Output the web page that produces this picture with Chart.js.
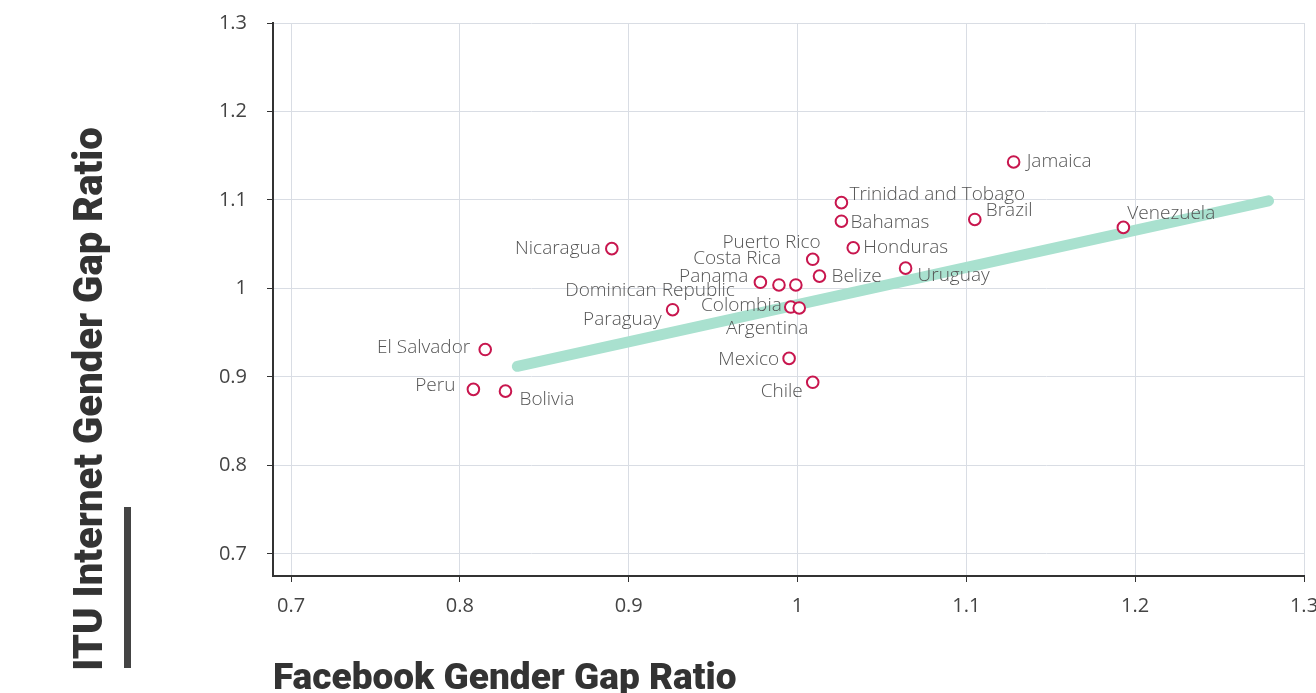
<!DOCTYPE html>
<html>
<head>
<meta charset="utf-8">
<script src="https://cdn.jsdelivr.net/npm/chart.js@4.4.1/dist/chart.umd.min.js"></script>
<style>
  body { margin: 0; background: #fff; }
  #wrap { position: relative; width: 1316px; height: 693px; }
</style>
</head>
<body>
<div id="wrap"><canvas id="grafico"></canvas></div>
<script>
// pays et ratios
const paises = ["Jamaica", "Trinidad and Tobago", "Bahamas", "Brazil", "Venezuela", "Nicaragua",
  "Puerto Rico", "Honduras", "Costa Rica", "Panama", "Belize", "Uruguay", "Dominican Republic",
  "Colombia", "Argentina", "Paraguay", "Mexico", "Chile", "El Salvador", "Peru", "Bolivia"];
const facebookRatio = [1.128, 1.026, 1.026, 1.105, 1.193, 0.890,
  1.009, 1.033, 0.989, 0.978, 1.013, 1.064, 0.999,
  0.996, 1.001, 0.926, 0.995, 1.009, 0.815, 0.808, 0.827];
const ituRatio = [1.143, 1.097, 1.076, 1.078, 1.069, 1.045,
  1.033, 1.046, 1.004, 1.007, 1.014, 1.023, 1.004,
  0.979, 0.978, 0.976, 0.921, 0.894, 0.931, 0.886, 0.884];

// droite de tendance
const tendenciaX = [0.834, 1.279];
const tendenciaY = [0.912, 1.099];

const ticksX = [0.7, 0.8, 0.9, 1, 1.1, 1.2, 1.3];
const ticksY = [0.7, 0.8, 0.9, 1, 1.1, 1.2, 1.3];

// position des étiquettes par rapport au point [dx, dy, alignement]
const posEtiquetas = {
  "Jamaica": [13, 0, "left"],
  "Trinidad and Tobago": [8, -8, "left"],
  "Bahamas": [9, 1, "left"],
  "Brazil": [11, -9, "left"],
  "Venezuela": [4, -14, "left"],
  "Nicaragua": [-11, 0, "right"],
  "Puerto Rico": [8, -17, "right"],
  "Honduras": [10, 0, "left"],
  "Costa Rica": [2, -26, "right"],
  "Panama": [-12, -6, "right"],
  "Belize": [12, 1, "left"],
  "Uruguay": [12, 7, "left"],
  "Dominican Republic": [-61, 6, "right"],
  "Colombia": [-9, -1, "right"],
  "Argentina": [9, 21, "right"],
  "Paraguay": [-11, 10, "right"],
  "Mexico": [-10, 1, "right"],
  "Chile": [-10, 9, "right"],
  "El Salvador": [-15, -2, "right"],
  "Peru": [-18, -4, "right"],
  "Bolivia": [14, 8, "left"]
};

const pontos = paises.map((p, i) => ({ x: facebookRatio[i], y: ituRatio[i] }));
const linha = tendenciaX.map((x, i) => ({ x: x, y: tendenciaY[i] }));

const etiquetasPlugin = {
  id: "etiquetas",
  afterDatasetsDraw(chart) {
    const ctx = chart.ctx;
    const meta = chart.getDatasetMeta(0);
    ctx.save();
    ctx.font = "300 19px 'Open Sans'";
    ctx.fillStyle = "#555";
    ctx.textBaseline = "middle";
    meta.data.forEach((pt, i) => {
      const pos = posEtiquetas[paises[i]];
      ctx.textAlign = pos[2];
      ctx.fillText(paises[i], pt.x + pos[0], pt.y + pos[1]);
    });
    ctx.restore();
  }
};

const titulosPlugin = {
  id: "titulos",
  afterDraw(chart) {
    const ctx = chart.ctx;
    ctx.save();
    ctx.fillStyle = "#333";
    ctx.textAlign = "left";
    ctx.textBaseline = "alphabetic";
    ctx.font = "900 37px Roboto";
    ctx.fillText("Facebook Gender Gap Ratio", 273, 689);
    ctx.font = "900 40px Roboto";
    ctx.translate(102, 399);
    ctx.rotate(-Math.PI / 2);
    ctx.textAlign = "center";
    ctx.fillText("ITU Internet Gender Gap Ratio", 0, 0);
    ctx.restore();
    ctx.fillStyle = "#444";
    ctx.fillRect(124, 507, 7, 161);
  }
};

function semPadding(s) {
  s.paddingTop = 0;
  s.paddingBottom = 0;
  s.paddingLeft = 0;
  s.paddingRight = 0;
}

const ctx = document.getElementById("grafico").getContext("2d");
new Chart(ctx, {
  data: {
    datasets: [{
      type: "scatter",
      label: "Pays",
      data: pontos,
      pointRadius: 5.8,
      pointBorderWidth: 2,
      pointBorderColor: "#c8164e",
      pointBackgroundColor: "#fff",
      order: 1
    }, {
      type: "line",
      label: "Tendance",
      data: linha,
      borderColor: "#a9e1cf",
      borderWidth: 11,
      borderCapStyle: "round",
      pointRadius: 0,
      fill: false,
      order: 2
    }]
  },
  options: {
    responsive: true,
    maintainAspectRatio: false,
    animation: false,
    layout: { padding: { left: 0, top: 23, right: 12, bottom: 0 } },
    plugins: { legend: { display: false }, tooltip: { enabled: false } },
    scales: {
      x: {
        type: "linear",
        min: 0.6893,
        max: 1.3,
        afterFit: s => { s.height = 117; semPadding(s); },
        afterBuildTicks: s => { s.ticks = ticksX.map(v => ({ value: v })); },
        ticks: {
          padding: 12,
          color: "#444",
          font: { family: "'Open Sans'", size: 20 },
          callback: v => +v.toFixed(1)
        },
        grid: { color: "#d9dde4", tickColor: "#333", tickLength: 6 },
        border: { color: "#333", width: 2 }
      },
      y: {
        type: "linear",
        min: 0.6751,
        max: 1.3,
        afterFit: s => { s.width = 273; semPadding(s); },
        afterBuildTicks: s => { s.ticks = ticksY.map(v => ({ value: v })); },
        ticks: {
          padding: 20,
          color: "#444",
          font: { family: "'Open Sans'", size: 20 },
          callback: v => +v.toFixed(1)
        },
        grid: { color: "#d9dde4", tickColor: "#333", tickLength: 6 },
        border: { color: "#333", width: 2 }
      }
    }
  },
  plugins: [etiquetasPlugin, titulosPlugin]
});
</script>
</body>
</html>
